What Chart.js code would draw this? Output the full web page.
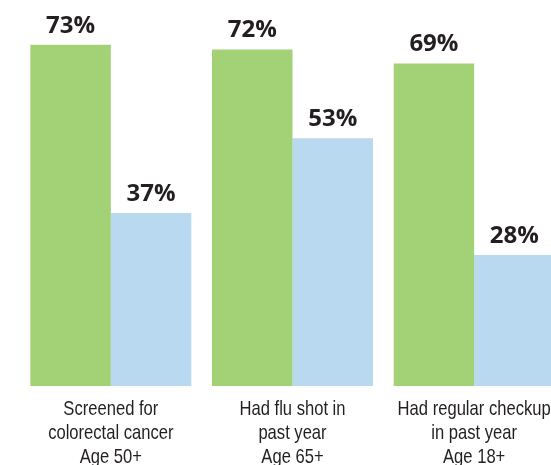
<!DOCTYPE html>
<html>
<head>
<meta charset="utf-8">
<script src="https://cdn.jsdelivr.net/npm/chart.js@4"></script>
<style>
  body { margin: 0; overflow: hidden; background: #fff; }
  canvas { display: block; }
</style>
</head>
<body>
<canvas id="myChart" width="580" height="465"></canvas>
<script>
let categories = [
  ['Screened for', 'colorectal cancer', 'Age 50+'],
  ['Had flu shot in', 'past year', 'Age 65+'],
  ['Had regular checkup', 'in past year', 'Age 18+']
];
let greenValues = [73, 72, 69];
let blueValues = [37, 53, 28];
let colors = ['#a3d176', '#b8d9f0'];

// draws the "73%" style labels above each bar
let valueLabels = {
  id: 'valueLabels',
  afterDatasetsDraw(chart) {
    let ctx = chart.ctx;
    ctx.save();
    ctx.font = 'bold 24px "Open Sans", sans-serif';
    ctx.fillStyle = '#231f20';
    ctx.textAlign = 'center';
    ctx.textBaseline = 'alphabetic';
    chart.data.datasets.forEach((ds, i) => {
      chart.getDatasetMeta(i).data.forEach((bar, j) => {
        ctx.fillText(ds.data[j] + '%', bar.x, bar.y - 12);
      });
    });
    ctx.restore();
  }
};

// category labels under the bars, squeezed to look like a condensed face
let categoryLabels = {
  id: 'categoryLabels',
  afterDraw(chart) {
    let ctx = chart.ctx;
    let xScale = chart.scales.x;
    ctx.save();
    ctx.font = '21px "Liberation Sans", Arial, sans-serif';
    ctx.fillStyle = '#231f20';
    ctx.textAlign = 'center';
    ctx.textBaseline = 'alphabetic';
    chart.data.labels.forEach((lines, i) => {
      let x = xScale.getPixelForValue(i);
      lines.forEach((line, k) => {
        ctx.save();
        ctx.translate(x, xScale.top + 29 + k * 24);
        ctx.scale(0.79, 1);
        ctx.fillText(line, 0, 0);
        ctx.restore();
      });
    });
    ctx.restore();
  }
};

let myChart = document.getElementById('myChart').getContext('2d');

let chart = new Chart(myChart, {
  type: 'bar',
  data: {
    labels: categories,
    datasets: [{
      label: 'Group 1',
      data: greenValues,
      backgroundColor: colors[0]
    }, {
      label: 'Group 2',
      data: blueValues,
      backgroundColor: colors[1]
    }]
  },
  options: {
    responsive: false,
    animation: false,
    layout: { padding: { top: 12, left: 20, right: 15, bottom: 0 } },
    datasets: {
      bar: { categoryPercentage: 0.886, barPercentage: 1 }
    },
    scales: {
      x: {
        grid: { display: false, drawTicks: false },
        border: { display: false },
        ticks: { display: false },
        afterFit(scale) { scale.height = 79; }
      },
      y: {
        display: false,
        min: 0,
        max: 80
      }
    },
    plugins: {
      legend: { display: false },
      tooltip: { enabled: false }
    }
  },
  plugins: [valueLabels, categoryLabels]
});
</script>
</body>
</html>
